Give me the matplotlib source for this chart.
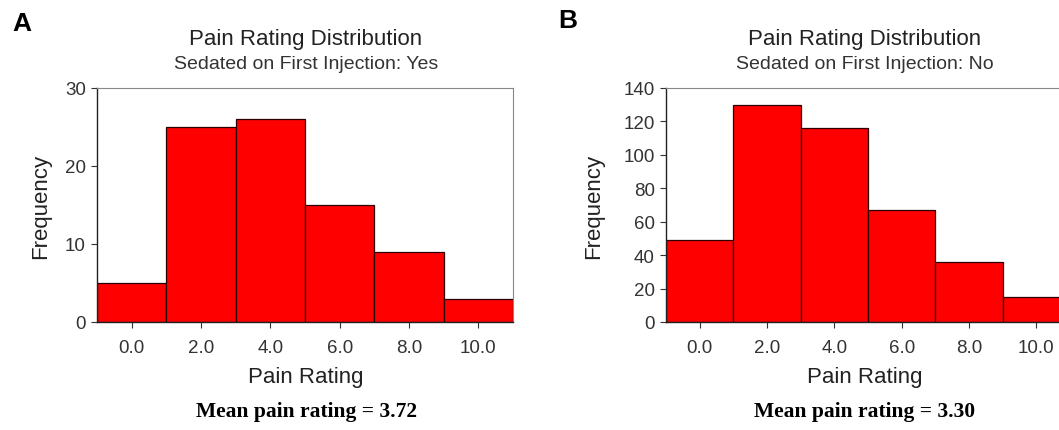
import matplotlib
matplotlib.use("Agg")
import matplotlib.pyplot as plt

plt.rcParams['font.family'] = ['Liberation Sans', 'DejaVu Sans']

bin_edges = [-1, 1, 3, 5, 7, 9, 11]
tick_values = [0, 2, 4, 6, 8, 10]
tick_labels = ['0.0', '2.0', '4.0', '6.0', '8.0', '10.0']

freq_yes = [5, 25, 26, 15, 9, 3]
freq_no = [49, 130, 116, 67, 36, 15]

yticks_yes = [0, 10, 20, 30]
yticks_no = [0, 20, 40, 60, 80, 100, 120, 140]

subtitle_yes = 'Sedated on First Injection: Yes'
subtitle_no = 'Sedated on First Injection: No'
mean_yes = 'Mean pain rating = 3.72'
mean_no = 'Mean pain rating = 3.30'

W, H = 1059, 431
fig = plt.figure(figsize=(W / 100, H / 100), dpi=100)


def draw_panel(rect, freqs, yticks, letter, letter_xy, subtitle, mean_text, cx, ylab_x):
    ax = fig.add_axes(rect)
    lefts = bin_edges[:-1]
    widths = [b - a for a, b in zip(bin_edges[:-1], bin_edges[1:])]
    ax.bar(lefts, freqs, width=widths, align='edge', color='#ff0000',
           edgecolor='#2a0000', linewidth=0.9)
    ax.set_xlim(bin_edges[0], bin_edges[-1])
    ax.set_ylim(yticks[0], yticks[-1])
    ax.set_xticks(tick_values)
    ax.set_xticklabels(tick_labels)
    ax.set_yticks(yticks)
    ax.tick_params(direction='out', length=4, width=0.8, labelsize=13.5,
                   colors='#333333')
    ax.tick_params(axis='x', pad=8)
    ax.tick_params(axis='y', pad=4)
    for s in ['top', 'right']:
        ax.spines[s].set_color('#888888')
    for s in ['left', 'bottom']:
        ax.spines[s].set_color('#222222')
        ax.spines[s].set_linewidth(1.0)

    fig.text(letter_xy[0] / W, 1 - letter_xy[1] / H, letter, fontsize=19,
             fontweight='bold', ha='left', va='center')
    fig.text(cx / W, 1 - 40 / H, 'Pain Rating Distribution', fontsize=16,
             ha='center', va='center', color='#222222')
    fig.text(cx / W, 1 - 65 / H, subtitle, fontsize=14,
             ha='center', va='center', color='#333333')
    fig.text(cx / W, 1 - 378 / H, 'Pain Rating', fontsize=16,
             ha='center', va='center', color='#222222')
    fig.text(ylab_x / W, 1 - 206 / H, 'Frequency', fontsize=16,
             ha='center', va='center', rotation=90, color='#222222')
    fig.text(cx / W, 1 - 412 / H, mean_text, fontsize=15.5,
             fontweight='bold', ha='center', va='center',
             family=['Liberation Serif', 'DejaVu Serif'])
    return ax


bottom = 1 - 323 / H
height = (323 - 89) / H

draw_panel([97 / W, bottom, 416 / W, height], freq_yes, yticks_yes,
           'A', (12, 24), subtitle_yes, mean_yes, 306, 41)
draw_panel([666 / W, bottom, 404 / W, height], freq_no, yticks_no,
           'B', (558, 21), subtitle_no, mean_no, 865, 594)

fig.savefig('out.png', dpi=100)
